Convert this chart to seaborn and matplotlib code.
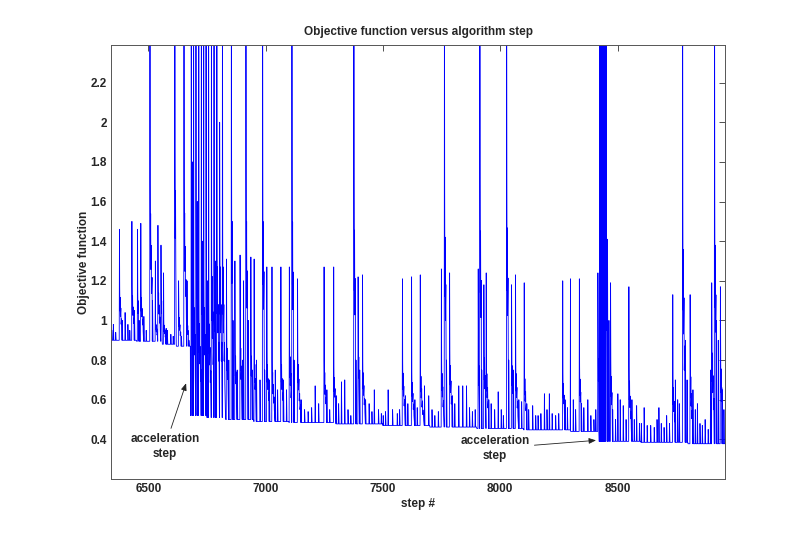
import matplotlib
matplotlib.use("Agg")
import matplotlib.pyplot as plt
import seaborn as sns
import pandas as pd
import numpy as np

# baseline of the objective (staircase)
floor_steps = [6341, 6346, 6450, 6560, 6620, 6680, 6750, 6830, 6950, 7100, 7300,
               7500, 7700, 7900, 8100, 8300, 8421, 8600, 8800, 8958]
floor_vals = [0.95, 0.90, 0.895, 0.88, 0.87, 0.52, 0.51, 0.50, 0.49, 0.485, 0.478,
              0.47, 0.462, 0.455, 0.448, 0.44, 0.39, 0.385, 0.378, 0.378]

# spikes with a dark decaying "body" after the peak (3.0 = runs off the top)
big_steps = [6376, 6429, 6453, 6467, 6506, 6529, 6540, 6553, 6564, 6612, 6628, 6651, 6664,
             6682, 6692, 6702, 6714, 6725, 6735, 6745, 6756, 6768, 6779, 6791, 6803, 6815,
             6832, 6853, 6868, 6890, 6915, 6936, 6950, 6986, 7004, 7026, 7064, 7100, 7111,
             7135, 7248, 7289, 7375, 7393, 7412, 7582, 7621, 7658, 7748, 7761, 7783, 7905,
             7912, 7929, 7939, 8026, 8047, 8064, 8101, 8265, 8298, 8336, 8415, 8450, 8469,
             8547, 8734, 8776, 8808, 8900, 8912, 8937]
big_peaks = [1.46, 1.50, 1.46, 1.49, 3.0, 1.30, 1.48, 1.38, 1.24, 3.0, 1.20, 3.0, 1.20,
             3.0, 3.0, 3.0, 3.0, 3.0, 3.0, 3.0, 3.0, 3.0, 3.0, 3.0, 2.0, 3.0,
             1.31, 3.0, 1.30, 1.33, 3.0, 1.32, 1.31, 3.0, 1.27, 1.27, 1.27, 1.27, 3.0,
             1.21, 1.27, 1.27, 3.0, 1.22, 1.23, 1.21, 1.22, 1.23, 1.26, 3.0, 1.24, 1.26,
             3.0, 1.18, 1.24, 3.0, 1.18, 1.23, 1.19, 1.20, 1.21, 1.21, 1.24, 3.0, 1.19,
             1.17, 1.13, 3.0, 1.13, 1.19, 3.0, 1.17]
big_bodies = [1.17, 1.18, 1.15, 1.17, 1.70, 1.00, 1.20, 1.15, 1.00, 1.85, 1.05, 1.71, 1.00,
              1.50, 1.20, 1.60, 1.10, 1.45, 1.20, 1.55, 1.10, 1.40, 1.30, 1.46, 1.46, 1.46,
              0.95, 1.75, 0.90, 0.95, 1.75, 0.90, 0.85, 1.75, 0.85, 0.80, 0.85, 0.90, 1.75,
              0.85, 0.80, 0.77, 1.70, 0.90, 0.80, 0.80, 0.74, 0.78, 0.80, 1.66, 0.85, 0.85,
              1.70, 0.90, 0.80, 1.72, 0.85, 0.80, 0.77, 0.74, 0.77, 0.77, 0.90, 1.41, 0.80,
              0.77, 0.73, 1.60, 0.80, 0.95, 1.63, 0.85]

# thin single spikes and small bumps
small_steps = [6350, 6360, 6388, 6400, 6412, 6420, 6440, 6460, 6480, 6490, 6517, 6575, 6580,
               6595, 6605, 6640, 6672,
               6687, 6708, 6730, 6751, 6785,
               6842, 6860, 6878, 6900, 6905, 6925, 6943, 6960, 6975, 6995, 7015, 7040, 7050,
               7075, 7088, 7120, 7150, 7165, 7180, 7195, 7210, 7225, 7260, 7272, 7300, 7310,
               7322, 7336, 7350, 7362, 7384, 7400, 7425, 7440, 7452, 7462, 7480, 7492, 7500,
               7510, 7521, 7540, 7560, 7570, 7595, 7605, 7635, 7645, 7676, 7694, 7708, 7720,
               7735, 7770, 7795, 7805, 7822, 7839, 7855, 7868, 7880, 7892, 7920, 7950, 7960,
               7975, 7990, 8003, 8012, 8035, 8055, 8078, 8090, 8112, 8120, 8137, 8150, 8160,
               8172, 8187, 8198, 8208, 8220, 8235, 8248, 8275, 8285, 8310, 8320, 8345, 8355,
               8372, 8385, 8398, 8406,
               8423, 8425, 8427, 8429, 8432, 8434, 8436, 8438, 8441, 8443, 8445,
               8456, 8462, 8478, 8490, 8500, 8510, 8523, 8535, 8560, 8570, 8580, 8592, 8600,
               8612, 8625, 8640, 8655, 8667, 8675, 8685, 8697, 8708, 8720, 8745, 8755, 8762,
               8788, 8795, 8820, 8830, 8839, 8850, 8860, 8872, 8885, 8895, 8920, 8928, 8945,
               8952]
small_peaks = [0.98, 0.94, 1.00, 1.04, 0.98, 0.95, 1.05, 1.00, 1.02, 0.95, 1.10, 0.96, 0.95,
               0.93, 0.92, 0.92, 0.90,
               1.80, 1.60, 1.40, 1.20, 1.30,
               0.80, 1.00, 0.75, 0.80, 1.20, 1.00, 0.75, 0.80, 0.70, 0.75, 0.70, 0.75, 0.65,
               0.70, 0.65, 0.80, 0.60, 0.55, 0.54, 0.56, 0.67, 0.58, 0.65, 0.55, 0.62, 0.58,
               0.69, 0.70, 0.55, 0.52, 0.80, 0.75, 0.60, 0.58, 0.54, 0.65, 0.55, 0.53, 0.52,
               0.54, 0.65, 0.55, 0.53, 0.55, 0.62, 0.58, 0.60, 0.56, 0.67, 0.62, 0.55, 0.52,
               0.54, 0.80, 0.62, 0.58, 0.67, 0.67, 0.67, 0.56, 0.54, 0.55, 0.75, 0.60, 0.58,
               0.55, 0.64, 0.55, 0.52, 0.80, 0.75, 0.60, 0.59, 0.58, 0.55, 0.57, 0.52, 0.52,
               0.53, 0.63, 0.55, 0.63, 0.53, 0.52, 0.53, 0.60, 0.56, 0.60, 0.55, 0.58, 0.56,
               0.60, 0.52, 0.50, 0.55,
               3.0, 3.0, 3.0, 3.0, 3.0, 3.0, 3.0, 3.0, 3.0, 3.0, 3.0,
               1.41, 1.00, 0.55, 0.50, 0.63, 0.60, 0.57, 0.50, 0.60, 0.50, 0.57, 0.48, 0.48,
               0.56, 0.47, 0.47, 0.46, 0.50, 0.56, 0.48, 0.46, 0.52, 0.48, 0.70, 0.60, 0.58,
               0.90, 0.70, 0.65, 0.55, 0.58, 0.48, 0.47, 0.50, 0.45, 0.75, 1.00, 0.90, 0.65,
               0.55]

xticks = [6500, 7000, 7500, 8000, 8500]
yticks = [0.4, 0.6, 0.8, 1.0, 1.2, 1.4, 1.6, 1.8, 2.0, 2.2]
ytick_labels = ["0.4", "0.6", "0.8", "1", "1.2", "1.4", "1.6", "1.8", "2", "2.2"]

# drawing shape of one spike's decaying tail: (step offset, share of body height above floor)
tail_offsets = [2, 3, 4, 5, 7, 8, 10, 11, 14, 16, 19, 23]
tail_shares = [1.0, 0.55, 0.8, 0.45, 0.6, 0.3, 0.4, 0.18, 0.25, 0.08, 0.12, 0.0]


def foot(s):
    i = np.searchsorted(floor_steps, s, side="right") - 1
    return floor_vals[i]


# each event gives its own vertices; an event's tail is cut where the next one starts
events = []
for i, (s, v) in enumerate(zip(floor_steps, floor_vals)):
    seg = [(s, v)] if i == 0 else [(s - 1, floor_vals[i - 1]), (s, v)]
    events.append((seg[0][0], seg))
for s, p, b in zip(big_steps, big_peaks, big_bodies):
    f = foot(s)
    seg = [(s, f), (s + 1, p)] + [(s + o, f + k * (b - f)) for o, k in zip(tail_offsets, tail_shares)]
    events.append((s, seg))
for s, p in zip(small_steps, small_peaks):
    f = foot(s)
    events.append((s, [(s, f), (s + 1, p), (s + 3, f)]))
events.sort(key=lambda e: e[0])

pts = []
for j, (s, seg) in enumerate(events):
    nxt = events[j + 1][0] if j + 1 < len(events) else np.inf
    pts += [pt for k, pt in enumerate(seg) if k < 2 or pt[0] < nxt]

df = pd.DataFrame(pts, columns=["step", "objective"])

sns.set_style("white")
plt.rcParams["font.family"] = ["Liberation Sans", "DejaVu Sans"]
plt.rcParams["font.weight"] = "bold"
plt.rcParams["xtick.direction"] = "in"
plt.rcParams["ytick.direction"] = "in"

fig, ax = plt.subplots(figsize=(7.89, 5.34), dpi=100)
fig.subplots_adjust(left=0.1407, right=0.919, bottom=0.103, top=0.9157)

sns.lineplot(data=df, x="step", y="objective", sort=False, estimator=None,
             color="#0000ff", linewidth=0.6, ax=ax)

ax.set_xlim(6341, 8958)
ax.set_ylim(0.2, 2.39)
ax.set_xticks(xticks)
ax.set_xticklabels([str(t) for t in xticks], fontsize=8.5, fontweight="bold")
ax.set_yticks(yticks)
ax.set_yticklabels(ytick_labels, fontsize=8.5, fontweight="bold")
ax.tick_params(top=True, right=True, length=4, width=0.6, color="#333333", pad=3)
for sp in ax.spines.values():
    sp.set_visible(True)
    sp.set_color("#555555")
    sp.set_linewidth(0.7)

ax.set_title("Objective function versus algorithm step", fontsize=8.5, fontweight="bold", pad=7)
ax.set_xlabel("step #", fontsize=8.5, fontweight="bold", labelpad=2)
ax.set_ylabel("Objective function", fontsize=8.5, fontweight="bold", labelpad=0.5)

arrow = dict(arrowstyle="-|>,head_length=0.5,head_width=0.2", color="#222222", lw=0.6,
             shrinkA=1, shrinkB=0)
ax.annotate("acceleration\nstep", xy=(6661, 0.683), xytext=(6571, 0.365), ha="center",
            va="center", fontsize=8.5, fontweight="bold", linespacing=1.3, arrowprops=arrow)
ax.annotate("acceleration\nstep", xy=(8408, 0.395), xytext=(7978, 0.355), ha="center",
            va="center", fontsize=8.5, fontweight="bold", linespacing=1.3, arrowprops=arrow)

plt.savefig("out.png", dpi=100)
